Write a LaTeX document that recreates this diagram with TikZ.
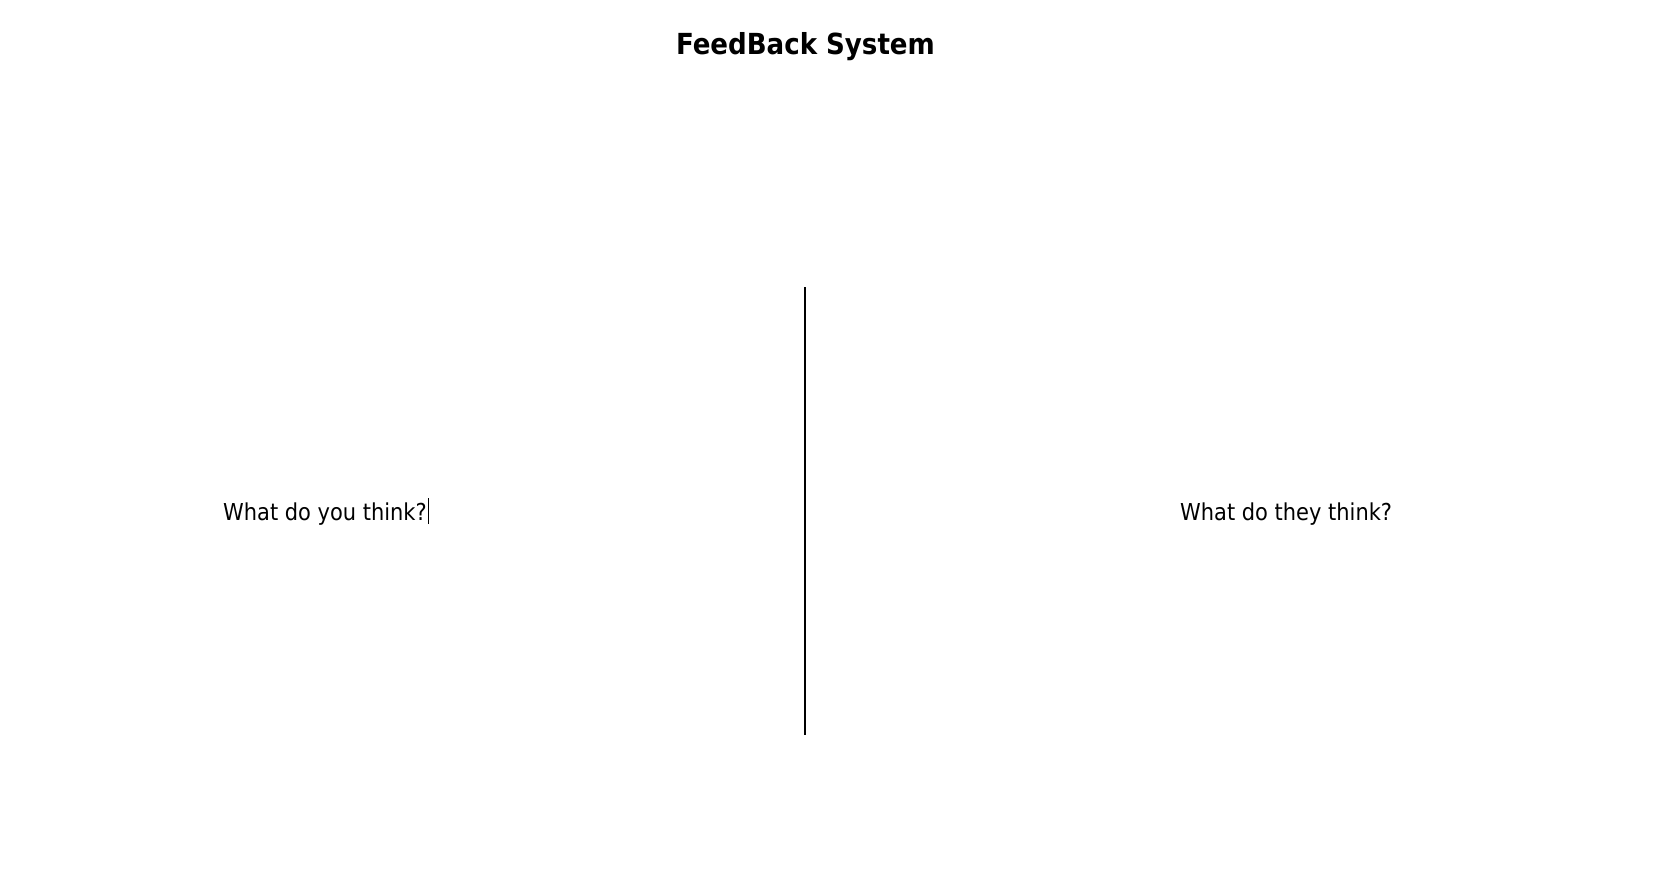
\documentclass[tikz,border=0pt]{standalone}
\usepackage{fontspec}
\setmainfont{DejaVu Sans Condensed}

\begin{document}
\begin{tikzpicture}
        [%%%%%%%%%%%%%%%%%%%%%%%%%%%%%%
        x=1pt, y=-1pt,
        heading/.style={anchor=base, inner sep=0pt, font=\fontsize{29}{34}\selectfont\bfseries},
        question/.style={anchor=base west, inner sep=0pt, font=\fontsize{23.3}{28}\selectfont},
        divider/.style={draw=black, line width=2pt},
        ]%%%%%%%%%%%%%%%%%%%%%%%%%%%%%%

        \useasboundingbox (0,0) rectangle (1665,872);

        \node[heading] (title) at (805.5,55) {FeedBack System};

        \node[question] (you) at (223,520) {What do you think?};
        \node[question] (they) at (1180,520) {What do they think?};

        % middle line and the text caret
        \coordinate (top) at (805,287);
        \coordinate (bottom) at (805,735);
        \draw[divider] (top) -- (bottom);
        \draw[line width=1pt] ([xshift=1.5pt,yshift=-4pt]you.base east) -- ([xshift=1.5pt,yshift=22pt]you.base east);
\end{tikzpicture}
\end{document}
